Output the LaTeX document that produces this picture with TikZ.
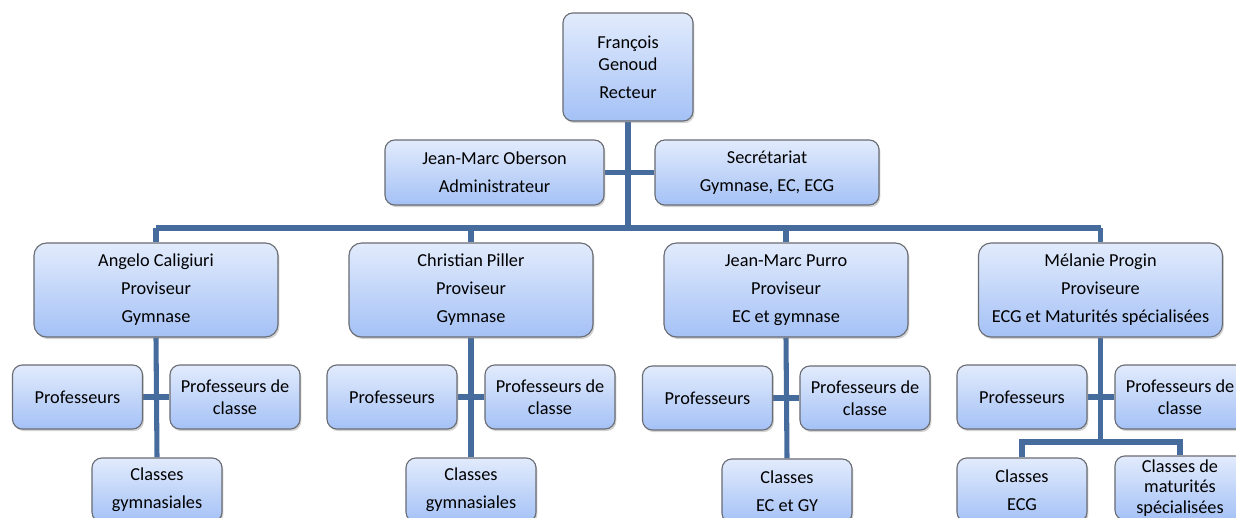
\documentclass[tikz,border=0pt]{standalone}
\usepackage{fontspec}
\setmainfont{Carlito}
\usepackage{tikz}
\usetikzlibrary{shadows, backgrounds}

\definecolor{boxtop}{RGB}{226,235,252}
\definecolor{boxbot}{RGB}{164,193,246}
\definecolor{boxline}{RGB}{105,108,115}
\definecolor{linkblue}{RGB}{70,108,158}

\tikzset{
    orgbox/.style={draw=boxline, line width=0.8pt, rounded corners=7pt,
        top color=boxtop, bottom color=boxbot, align=center, inner sep=0pt,
        font=\fontsize{13}{15.6}\selectfont,
        drop shadow={opacity=0.35, shadow xshift=1pt, shadow yshift=-1.5pt}},
    chefbox/.style={orgbox, minimum width=6.1cm, minimum height=2.35cm, rounded corners=9pt},
    smallbox/.style={orgbox, minimum width=3.25cm, minimum height=1.6cm},
    link/.style={draw=linkblue, line width=3.6pt}
}

\begin{document}
\begin{tikzpicture}[x=0.025cm, y=-0.025cm]
        \clip (0,0) rectangle (1236,518);
        \useasboundingbox (0,0) rectangle (1236,518);

        % Direction
        \node[orgbox, minimum width=3.25cm, minimum height=2.7cm] (recteur) at (628,67)
            {François\\Genoud\\[4.4pt]Recteur};
        \node[orgbox, minimum width=5.475cm, minimum height=1.625cm] (admin) at (494.5,172.5)
            {Jean-Marc Oberson\\[4.4pt]Administrateur};
        \node[orgbox, minimum width=5.6cm, minimum height=1.625cm] (secret) at (767,172.5)
            {Secrétariat\\[4.4pt]Gymnase, EC, ECG};
        \coordinate (bus) at (628,228);

        % Proviseurs
        \node[chefbox] (caligiuri) at (156,290) {Angelo Caligiuri\\[4.4pt]Proviseur\\[4.4pt]Gymnase};
        \node[chefbox] (piller) at (471,290) {Christian Piller\\[4.4pt]Proviseur\\[4.4pt]Gymnase};
        \node[chefbox] (purro) at (786,290) {Jean-Marc Purro\\[4.4pt]Proviseur\\[4.4pt]EC et gymnase};
        \node[chefbox] (progin) at (1100.5,290)
            {Mélanie Progin\\[4.4pt]Proviseure\\[4.4pt]ECG et Maturités spécialisées};

        % Angelo Caligiuri
        \node[smallbox] (profA) at (77.5,397) {Professeurs};
        \node[smallbox] (pdcA) at (235,397) {Professeurs de\\classe};
        \node[smallbox] (classA) at (157,490) {Classes\\[4.4pt]gymnasiales};

        % Christian Piller
        \node[smallbox] (profB) at (392,397) {Professeurs};
        \node[smallbox] (pdcB) at (550,397) {Professeurs de\\classe};
        \node[smallbox] (classB) at (471,490) {Classes\\[4.4pt]gymnasiales};

        % Jean-Marc Purro
        \node[smallbox] (profC) at (707.5,398) {Professeurs};
        \node[smallbox] (pdcC) at (865,398) {Professeurs de\\classe};
        \node[smallbox] (classC) at (787,491) {Classes\\[4.4pt]EC et GY};

        % Melanie Progin
        \node[smallbox] (profD) at (1022,397) {Professeurs};
        \node[smallbox] (pdcD) at (1180,397) {Professeurs de\\classe};
        \node[smallbox] (classD) at (1022,490) {Classes\\[4.4pt]ECG};
        \node[smallbox, font=\fontsize{13}{14.8}\selectfont] (matD) at (1180,488)
            {Classes de\\maturités\\spécialisées};
        \coordinate (forkD) at (1100.5,442);

        % Connectors
        \begin{scope}[on background layer]
            \draw[link] (recteur.south) -- (recteur.south |- bus);
            \draw[link] (admin) -- (secret);
            \draw[link] (caligiuri.north |- bus) -- (progin.north |- bus);
            \foreach \p in {caligiuri, piller, purro, progin} {
                \draw[link] (\p.north |- bus) -- (\p.north);
            }
            \draw[link] (caligiuri.south) -- (classA.north);
            \draw[link] (profA) -- (pdcA);
            \draw[link] (piller.south) -- (classB.north);
            \draw[link] (profB) -- (pdcB);
            \draw[link] (purro.south) -- (classC.north);
            \draw[link] (profC) -- (pdcC);
            \draw[link] (progin.south) -- (forkD);
            \draw[link] (profD) -- (pdcD);
            \draw[link] (classD.north) |- (forkD) -| (matD.north);
        \end{scope}
\end{tikzpicture}
\end{document}
